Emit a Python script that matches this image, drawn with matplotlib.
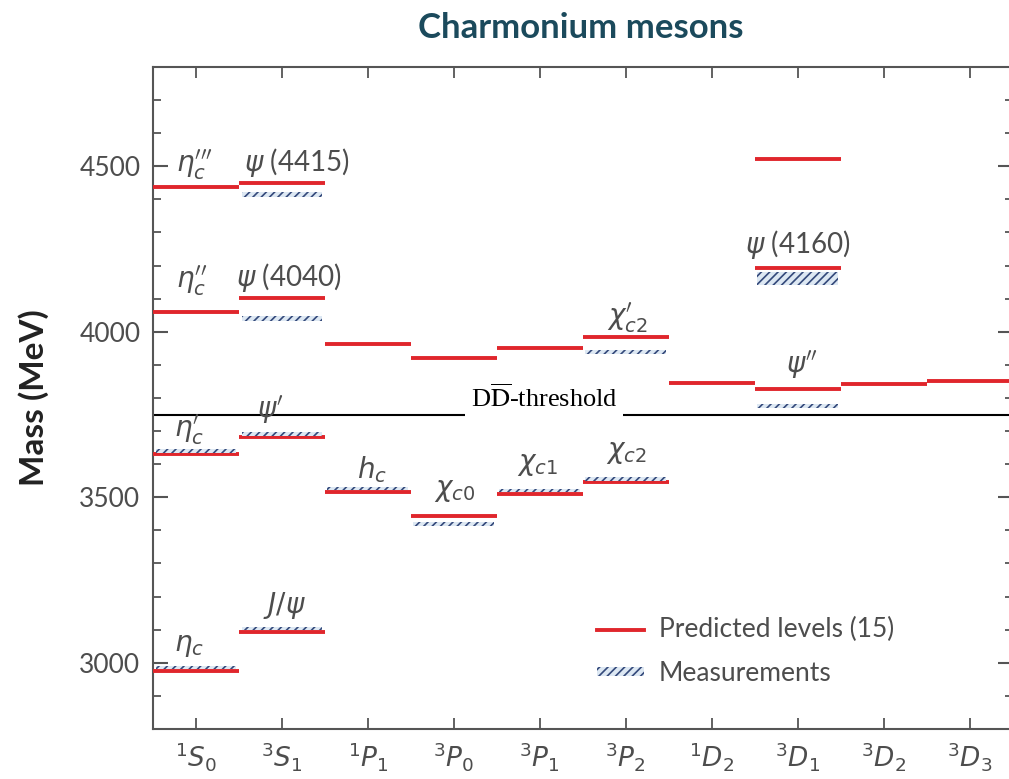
import matplotlib
matplotlib.use('Agg')
import matplotlib.pyplot as plt
from matplotlib.lines import Line2D
from matplotlib.patches import Rectangle
from matplotlib.ticker import MultipleLocator

# Spectroscopic states along the x axis
STATES = [r'${}^{1}S_{0}$', r'${}^{3}S_{1}$', r'${}^{1}P_{1}$', r'${}^{3}P_{0}$',
          r'${}^{3}P_{1}$', r'${}^{3}P_{2}$', r'${}^{1}D_{2}$', r'${}^{3}D_{1}$',
          r'${}^{3}D_{2}$', r'${}^{3}D_{3}$']

# Predicted levels (MeV), column index into STATES
PRED_COL  = [0, 0, 0, 0, 1, 1, 1, 1, 2, 2, 3, 3, 4, 4, 5, 5, 6, 7, 7, 7, 8, 9]
PRED_MASS = [2976, 3630, 4061, 4437, 3094, 3681, 4103, 4451, 3517, 3964,
             3443, 3921, 3510, 3951, 3547, 3984, 3844, 3826, 4193, 4522,
             3842, 3851]

# Measured levels (MeV) and band thickness (MeV)
MEAS_COL  = [0, 0, 1, 1, 1, 1, 2, 3, 4, 5, 5, 7, 7]
MEAS_MASS = [2986, 3640, 3104, 3691, 4041, 4414, 3527, 3420, 3520, 3555,
             3939, 3776, 4161]
MEAS_BAND = [11, 11, 11, 11, 15, 15, 11, 11, 11, 11, 13, 13, 38]

# Particle labels: text, column position, mass position
LABEL_TEXT = [r"$\eta_c^{\prime\prime\prime}$", r'$\psi\;$(4415)',
              r"$\eta_c^{\prime\prime}$", r'$\psi\;$(4040)',
              r'$\psi\;$(4160)', r"$\chi_{c2}^{\prime}$", r"$\psi''$",
              r"$\eta_c^{\prime}$", r"$\psi'$", r'$h_c$', r'$\chi_{c0}$',
              r'$\chi_{c1}$', r'$\chi_{c2}$', r'$J/\psi$', r'$\eta_c$']
LABEL_X = [-0.02, 1.17, -0.05, 1.08, 7.0, 5.02, 7.05, -0.08, 0.87, 2.05,
           3.01, 3.97, 5.01, 1.03, -0.08]
LABEL_Y = [4505, 4511, 4153, 4165, 4264, 4042, 3901, 3705, 3765, 3585,
           3519, 3597, 3633, 3173, 3050]

DD_THRESHOLD = 3749

RED   = '#e0262c'
NAVY  = '#34497a'
LIGHT = '#dde8f3'
GREY  = '#4d4d4d'
FONT  = 'Lato'

plt.rcParams['font.family'] = [FONT, 'DejaVu Sans']
plt.rcParams['hatch.linewidth'] = 1.2

fig = plt.figure(figsize=(10.09, 7.79), dpi=100)
ax = fig.add_axes([0.1516, 0.0642, 0.852, 0.8498])

half = 0.5
for col, m in zip(PRED_COL, PRED_MASS):
    ax.hlines(m, col - half, col + half, color=RED, lw=2.8, zorder=3)

for col, m, band in zip(MEAS_COL, MEAS_MASS, MEAS_BAND):
    ax.add_patch(Rectangle((col - 0.47, m - band / 2), 0.94, band,
                           facecolor=LIGHT, edgecolor=NAVY, linewidth=0,
                           hatch='////', zorder=4))

for txt, x, y in zip(LABEL_TEXT, LABEL_X, LABEL_Y):
    ax.text(x, y, txt, ha='center', va='center', fontsize=20, color=GREY,
            math_fontfamily='dejavusans', zorder=5)

# DD-bar threshold
ax.axhline(DD_THRESHOLD, color='black', lw=1.5, zorder=2)
ax.text(4.05, DD_THRESHOLD + 24, r'D$\overline{\mathrm{D}}$-threshold',
        ha='center', va='baseline', fontsize=19, family='Liberation Serif',
        math_fontfamily='stix', color='black', zorder=5,
        bbox=dict(facecolor='white', edgecolor='none', pad=4))

ax.set_xlim(-0.5, 9.5)
ax.set_ylim(2800, 4800)
ax.set_xticks(range(len(STATES)))
ax.set_xticklabels(STATES)
ax.set_yticks([3000, 3500, 4000, 4500])
ax.yaxis.set_minor_locator(MultipleLocator(100))

ax.tick_params(axis='both', which='both', direction='in', colors='#555555',
               top=True, right=True, labelsize=19, labelcolor=GREY)
ax.tick_params(axis='y', which='major', length=11, width=1.5, pad=9)
ax.tick_params(axis='y', which='minor', length=6, width=1.3)
ax.tick_params(axis='x', which='major', length=8, width=1.3, pad=8)
for sp in ax.spines.values():
    sp.set_color('#555555')
    sp.set_linewidth(1.5)

ax.set_ylabel('Mass (MeV)', fontsize=24, fontweight='bold', color='#222222',
              labelpad=22)

handles = [Line2D([], [], color=RED, lw=2.8),
           Rectangle((0, 0), 1, 1, facecolor=LIGHT, edgecolor=NAVY,
                     linewidth=0, hatch='////')]
ax.legend(handles, ['Predicted levels (15)', 'Measurements'],
          loc='upper left', bbox_to_anchor=(0.516, 0.17), frameon=False,
          fontsize=19, labelcolor=GREY, borderpad=0, borderaxespad=0,
          handlelength=1.8, handleheight=0.14, handletextpad=0.55,
          labelspacing=0.75)

fig.text(0.576, 0.964, 'Charmonium mesons', ha='center', va='center',
         fontsize=25, fontweight='bold', color='#1b4a5c')

fig.savefig('out.png', dpi=100)
